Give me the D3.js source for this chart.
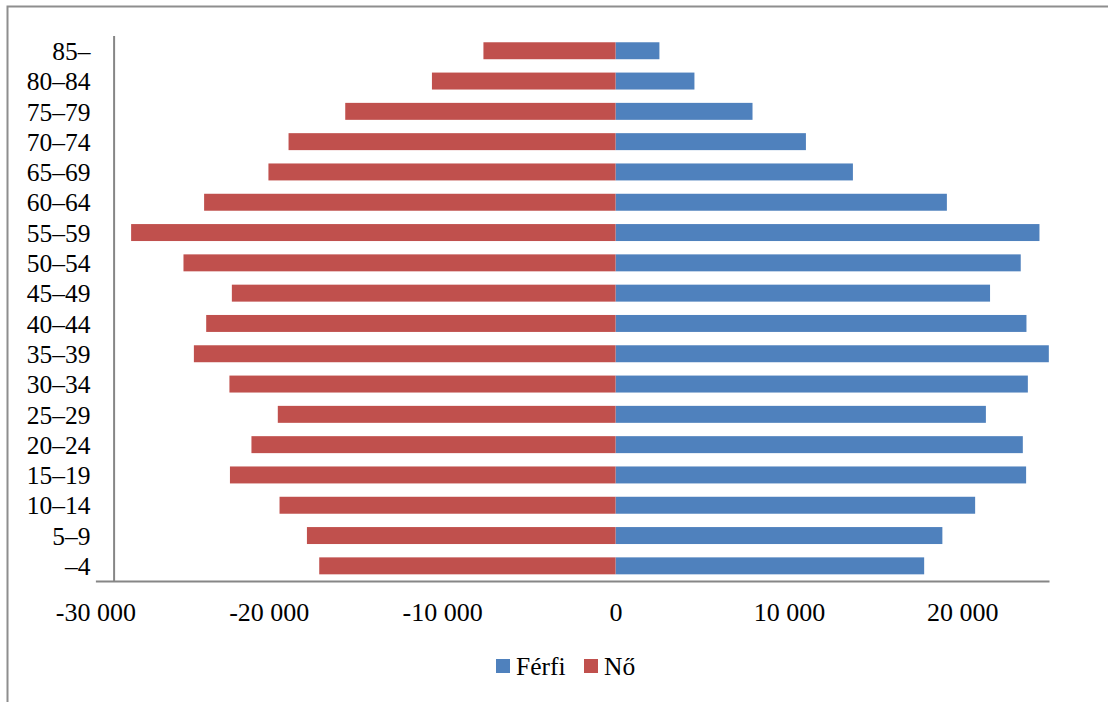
<!DOCTYPE html>
<html>
<head>
<meta charset="utf-8">
<script src="https://cdn.jsdelivr.net/npm/d3@7"></script>
<style>
    html, body { margin: 0; padding: 0; background: #fff; }
    svg { display: block; font-family: "Liberation Serif", "Times New Roman", serif; }
</style>
</head>
<body>
<div id="chart"></div>
<script>
// Age groups, top to bottom
const ageGroups = ['85–', '80–84', '75–79', '70–74', '65–69', '60–64', '55–59', '50–54', '45–49',
    '40–44', '35–39', '30–34', '25–29', '20–24', '15–19', '10–14', '5–9', '–4'];

// Férfi (men), drawn to the right
const ferfi = [2530, 4550, 7900, 10980, 13690, 19110, 24450, 23370, 21600,
    23700, 24990, 23780, 21360, 23490, 23680, 20740, 18850, 17800];

// Nő (women), negative so they are drawn to the left
const no = [-7620, -10590, -15590, -18860, -20020, -23730, -27940, -24920, -22130,
    -23610, -24320, -22270, -19480, -21000, -22240, -19380, -17800, -17090];

const xTicks = [-30000, -20000, -10000, 0, 10000, 20000];
const xDomain = [-30000, 25000];
const axisCrossing = -28950;

const series = [
    { name: 'Férfi', values: ferfi, color: '#4f81bd' },
    { name: 'Nő', values: no, color: '#c0504d' }
];

const width = 1108;
const height = 702;
const axisColor = '#868686';

const svg = d3.select('#chart')
    .append('svg')
    .attr('width', width)
    .attr('height', height);

// chart frame, only top and left edges are visible in the window
svg.append('path')
    .attr('d', `M7.5,${height} V6.5 H${width}`)
    .attr('fill', 'none')
    .attr('stroke', '#8e8e8e')
    .attr('stroke-width', 2);

const x = d3.scaleLinear().domain(xDomain).range([95.4, 1049]);
const y = d3.scaleBand()
    .domain(ageGroups)
    .range([35.6, 581])
    .paddingInner(0.44)
    .paddingOuter(0.22);

const locale = d3.formatLocale({ decimal: ',', thousands: ' ', grouping: [3], currency: ['', ''], minus: '-' });
const fmt = locale.format(',');

// bars
series.forEach((s) => {
    svg.append('g')
        .selectAll('rect')
        .data(s.values.map((value, i) => ({ value, group: ageGroups[i] })))
        .join('rect')
        .attr('x', (d) => x(Math.min(0, d.value)))
        .attr('width', (d) => Math.abs(x(d.value) - x(0)))
        .attr('y', (d) => y(d.group))
        .attr('height', y.bandwidth())
        .attr('fill', s.color);
});

// horizontal axis
const xAxis = svg.append('g')
    .attr('transform', `translate(0,${y.range()[1]})`)
    .call(d3.axisBottom(x).tickValues(xTicks).tickFormat(fmt).tickSize(0).tickPadding(22));
xAxis.select('.domain').attr('stroke', axisColor).attr('stroke-width', 2);
xAxis.selectAll('text')
    .attr('font-family', '"Liberation Serif", serif')
    .attr('font-size', 26)
    .attr('fill', '#000');

// vertical axis
const yAxis = svg.append('g')
    .attr('transform', `translate(${x(axisCrossing)},0)`)
    .call(d3.axisLeft(y).tickSize(0).tickPadding(23));
yAxis.select('.domain').attr('stroke', axisColor).attr('stroke-width', 2);
yAxis.selectAll('text')
    .attr('font-family', '"Liberation Serif", serif')
    .attr('font-size', 25.5)
    .attr('fill', '#000')
    .attr('dy', '0.36em');

// legend
const legendItems = [
    { label: 'Férfi', color: series[0].color, x: 496 },
    { label: 'Nő', color: series[1].color, x: 584 }
];
const legend = svg.append('g').attr('class', 'legend');
legend.selectAll('rect')
    .data(legendItems)
    .join('rect')
    .attr('x', (d) => d.x)
    .attr('y', 659)
    .attr('width', 14)
    .attr('height', 14)
    .attr('fill', (d) => d.color);
legend.selectAll('text')
    .data(legendItems)
    .join('text')
    .attr('x', (d) => d.x + 20)
    .attr('y', 675)
    .attr('font-size', 25.5)
    .attr('fill', '#000')
    .text((d) => d.label);
</script>
</body>
</html>
